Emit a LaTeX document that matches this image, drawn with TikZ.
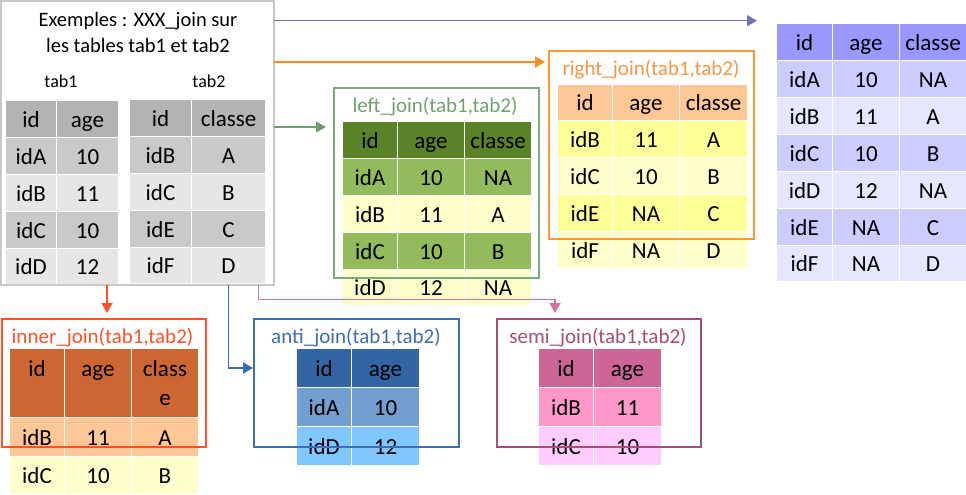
\documentclass[tikz,border=0pt]{standalone}
\usepackage{fontspec}
\setmainfont{Carlito}
\usetikzlibrary{arrows.meta}
\definecolor{grH}{HTML}{B3B3B3}
\definecolor{grA}{HTML}{C9C9C9}
\definecolor{grB}{HTML}{E6E6E6}
\definecolor{grF}{HTML}{C8C8C8}
\definecolor{lgH}{HTML}{5A8227}
\definecolor{lgA}{HTML}{93BB5C}
\definecolor{ylL}{HTML}{FFFFCC}
\definecolor{ylD}{HTML}{FFFF99}
\definecolor{pch}{HTML}{FDC896}
\definecolor{fuH}{HTML}{9999FF}
\definecolor{fuA}{HTML}{CCCCFF}
\definecolor{fuB}{HTML}{E6E6FF}
\definecolor{inH}{HTML}{CC6633}
\definecolor{anH}{HTML}{3364A4}
\definecolor{anA}{HTML}{729FCF}
\definecolor{anB}{HTML}{80C6FF}
\definecolor{seH}{HTML}{CC6699}
\definecolor{seA}{HTML}{FF99CC}
\definecolor{seB}{HTML}{FFCCFF}
\definecolor{cPur}{HTML}{7373B3}
\definecolor{cOra}{HTML}{FF8C1A}
\definecolor{cOraF}{HTML}{FF9A2E}
\definecolor{cOraT}{HTML}{F79646}
\definecolor{cGre}{HTML}{6E9F6E}
\definecolor{cGreF}{HTML}{7DAA7D}
\definecolor{cGreT}{HTML}{6FA36F}
\definecolor{cRed}{HTML}{FF5326}
\definecolor{cBlu}{HTML}{3E6EB0}
\definecolor{cPlm}{HTML}{A64D79}
\definecolor{cPnk}{HTML}{D474A4}
\newcommand\tc[7]{\node[tcs,fill=#6,minimum width={(#4)-(#2)},minimum height={(#5)-(#3)}] (#1) at ({((#2)+(#4))/2},{((#3)+(#5))/2}) {#7};}
\newcommand\trow[5]{\foreach \xa/\xb/\ctext [count=\ci] in {#5} {\tc{#1-\ci}{\xa}{#2}{\xb}{#3}{#4}{\ctext}}}
\begin{document}
\begin{tikzpicture}[x=1pt,y=-1pt,
  tcs/.style={inner sep=0pt,outer sep=0pt,text height=16.5pt,text depth=0pt,font=\fontsize{23}{28}\selectfont},
  hdtxt/.style={anchor=base,inner sep=0pt,font=\fontsize{23}{28}\selectfont},
  frame/.style={draw,line width=2pt,inner sep=0pt,outer sep=0pt},
  ttl/.style={anchor=base,inner sep=0pt,font=\fontsize{21}{25}\selectfont},
  lbl/.style={anchor=base,inner sep=0pt,font=\fontsize{18}{22}\selectfont},
  arr/.style={line width=1.5pt,-{Triangle[length=10pt,width=11pt]}}]
\useasboundingbox[fill=white] (0,0) rectangle (966,495);
% main box
\node[frame,draw=grF,fill=white,minimum width=273,minimum height=284] (main) at (137.5,143) {};
\node[anchor=base,inner sep=0pt,font=\fontsize{20.5}{25}\selectfont] (mt1) at (138,26.7) {Exemples : XXX\_join sur};
\node[anchor=base,inner sep=0pt,font=\fontsize{20.5}{25}\selectfont] (mt2) at (138,52.3) {les tables tab1 et tab2};
\node[lbl] (lab1) at (61,87.7) {tab1};
\node[lbl] (lab2) at (209,87.7) {tab2};
% tab1
\trow{ta0}{101}{137}{grH}{6/56/id,57/118/age}
\trow{ta1}{138}{174}{grA}{6/56/idA,57/118/10}
\trow{ta2}{175}{211}{grB}{6/56/idB,57/118/11}
\trow{ta3}{212}{248}{grA}{6/56/idC,57/118/10}
\trow{ta4}{249}{284}{grB}{6/56/idD,57/118/12}
% tab2
\trow{tb0}{100}{136}{grH}{130/191/id,192/265/classe}
\trow{tb1}{137}{173}{grA}{130/191/idB,192/265/A}
\trow{tb2}{174}{210}{grB}{130/191/idC,192/265/B}
\trow{tb3}{211}{247}{grA}{130/191/idE,192/265/C}
\trow{tb4}{248}{283}{grB}{130/191/idF,192/265/D}
% left join
\trow{lj0}{122}{158}{lgH}{343/397/id,398/464/age,465/531/classe}
\trow{lj1}{159}{195}{lgA}{343/397/idA,398/464/10,465/531/NA}
\trow{lj2}{196}{232}{ylL}{343/397/idB,398/464/11,465/531/A}
\trow{lj3}{233}{269}{lgA}{343/397/idC,398/464/10,465/531/B}
\trow{lj4}{270}{305}{ylL}{343/397/idD,398/464/12,465/531/NA}
% right join
\trow{rj0}{85}{120}{pch}{558/612/id,613/679/age,680/747/classe}
\trow{rj1}{121}{157}{ylD}{558/612/idB,613/679/11,680/747/A}
\trow{rj2}{158}{194}{ylL}{558/612/idC,613/679/10,680/747/B}
\trow{rj3}{195}{231}{ylD}{558/612/idE,613/679/NA,680/747/C}
\trow{rj4}{232}{268}{ylL}{558/612/idF,613/679/NA,680/747/D}
% full join
\trow{fj0}{24}{60}{fuH}{777/832/id,833/899/age,900/966/classe}
\trow{fj1}{61}{97}{fuA}{777/832/idA,833/899/10,900/966/NA}
\trow{fj2}{98}{134}{fuB}{777/832/idB,833/899/11,900/966/A}
\trow{fj3}{135}{171}{fuA}{777/832/idC,833/899/10,900/966/B}
\trow{fj4}{172}{208}{fuB}{777/832/idD,833/899/12,900/966/NA}
\trow{fj5}{209}{245}{fuA}{777/832/idE,833/899/NA,900/966/C}
\trow{fj6}{246}{281}{fuB}{777/832/idF,833/899/NA,900/966/D}
% inner join
\trow{ij0}{349}{417}{inH}{10/64/{},65/131/{},132/198/{}}
\node[hdtxt] (ijt1) at (37,376.7) {id};
\node[hdtxt] (ijt2) at (98,376.7) {age};
\node[hdtxt] (ijt3) at (165,376.7) {class};
\node[hdtxt] (ijt4) at (165,405) {e};
\trow{ij1}{418}{456}{pch}{10/64/idB,65/131/11,132/198/A}
\trow{ij2}{457}{494}{ylL}{10/64/idC,65/131/10,132/198/B}
% anti join
\trow{aj0}{349}{387}{anH}{297/351/id,352/419/age}
\trow{aj1}{388}{426}{anA}{297/351/idA,352/419/10}
\trow{aj2}{427}{465}{anB}{297/351/idD,352/419/12}
% semi join
\trow{sj0}{349}{387}{seH}{539/593/id,594/661/age}
\trow{sj1}{388}{426}{seA}{539/593/idB,594/661/11}
\trow{sj2}{427}{465}{seB}{539/593/idC,594/661/10}
% frames
\node[frame,draw=cGreF,minimum width=205,minimum height=190] (lbox) at (436.5,183) {};
\node[frame,draw=cOraF,minimum width=205,minimum height=188] (rbox) at (651.5,145) {};
\node[frame,draw=cRed,minimum width=204,minimum height=128] (ibox) at (104,383) {};
\node[frame,draw=cBlu,minimum width=205,minimum height=128] (abox) at (356.5,383) {};
\node[frame,draw=cPlm,minimum width=204,minimum height=128] (sbox) at (599,383) {};
% titles
\node[ttl,text=cGreT] (ltitle) at (435,112.7) {left\_join(tab1,tab2)};
\node[ttl,text=cOraT] (rtitle) at (651,75) {right\_join(tab1,tab2)};
\node[ttl,text=cRed] (ititle) at (102.5,343.3) {inner\_join(tab1,tab2)};
\node[ttl,text=cBlu] (atitle) at (356,343.3) {anti\_join(tab1,tab2)};
\node[ttl,text=cPlm] (stitle) at (598,343.3) {semi\_join(tab1,tab2)};
% arrows
\coordinate (fjtip) at (757,20.7);
\coordinate (pbend) at (555,299.5);
\draw[arr,cPur] (main.east |- fjtip) -- (fjtip);
\draw[arr,cOra,shorten >=4pt] (main.east |- 0,62) -- (rbox.west |- 0,62);
\draw[arr,cGre,shorten >=8pt] (main.east |- 0,127) -- (lbox.west |- 0,127);
\draw[arr,cRed,shorten >=6pt] (main.south -| 107,0) -- (ibox.north -| 107,0);
\draw[arr,cBlu,shorten >=1pt] (main.south -| 228.3,0) |- (abox.west |- 0,368);
\draw[arr,cPnk,shorten >=6pt] (main.south -| 258.7,0) |- (pbend) -- (sbox.north -| pbend);
\end{tikzpicture}
\end{document}
